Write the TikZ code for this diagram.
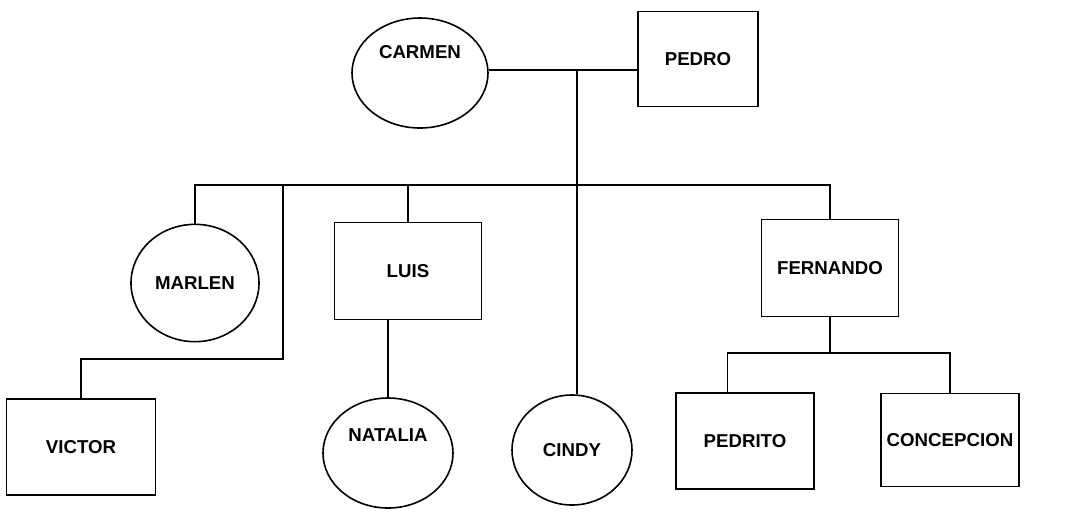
\documentclass[tikz,border=0pt]{standalone}
\usepackage{fontspec}
\setmainfont{Liberation Sans}
\usetikzlibrary{shapes.geometric}

\tikzset{
  person/.style={draw, line width=1.2pt, inner sep=1pt, font=\fontsize{14}{16}\selectfont\bfseries},
  male/.style={person, rectangle},
  female/.style={person, ellipse, inner sep=0pt},
  tag/.style={inner sep=0pt, font=\fontsize{14}{16}\selectfont\bfseries},
  link/.style={line width=1.2pt}
}

\begin{document}
\begin{tikzpicture}[x=0.75pt,y=-0.75pt]
\useasboundingbox (0,0) rectangle (1083,512);

% parents
\node[female, minimum width=102pt, minimum height=82.5pt] (carmen) at (420,73) {};
\node[tag] (carmentxt) at ([yshift=16pt]carmen.center) {CARMEN};
\node[male, minimum width=90pt, minimum height=71pt] (pedro) at (698,59) {PEDRO};

% children
\node[female, minimum width=96pt, minimum height=88pt] (marlen) at (195,283) {MARLEN};
\node[male, minimum width=110pt, minimum height=73pt] (luis) at (408,271) {LUIS};
\node[female, minimum width=90pt, minimum height=82.5pt] (cindy) at (572,450) {\raisebox{-5pt}{CINDY}};
\node[male, minimum width=103pt, minimum height=73pt] (fernando) at (830,268) {FERNANDO};

% grandchildren
\node[male, minimum width=112pt, minimum height=72pt] (victor) at (81,447) {VICTOR};
\node[female, minimum width=97.5pt, minimum height=82.5pt] (natalia) at (388,453) {};
\node[tag] (nataliatxt) at ([yshift=13.5pt]natalia.center) {NATALIA};
\node[male, minimum width=103.5pt, minimum height=72pt] (pedrito) at (745,441) {PEDRITO};
\node[male, minimum width=103.5pt, minimum height=70pt] (concepcion) at (950,440) {CONCEPCION};

\coordinate (wed) at (577,70);
\coordinate (bar) at (577,185);
\coordinate (vbend) at (283,359);
\coordinate (fbar) at (830,353);

\draw[link] (carmen.east |- wed) -- (wed) -- (wed -| pedro.west);
\draw[link] (wed) -- (wed |- cindy.north);
\draw[link] (marlen.north) |- (bar) -| (fernando.north);
\draw[link] (luis.north) -- (luis.north |- bar);
\draw[link] (vbend |- bar) -- (vbend) -| (victor.north);
\draw[link] (natalia.north) -- (natalia.north |- luis.south);
\draw[link] (fernando.south) -- (fbar);
\draw[link] ([xshift=-13pt]pedrito.north) |- (fbar) -| (concepcion.north);
\end{tikzpicture}
\end{document}
